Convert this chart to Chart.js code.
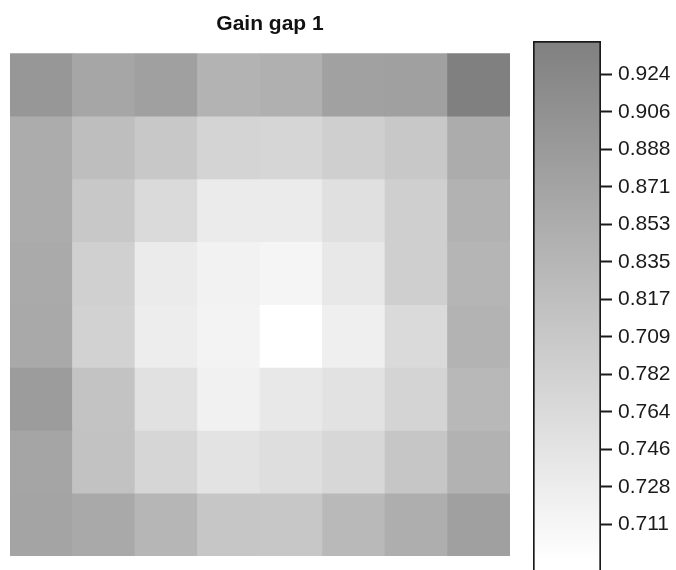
<!DOCTYPE html>
<html>
<head>
<meta charset="utf-8">
<script src="https://cdn.jsdelivr.net/npm/chart.js@4/dist/chart.umd.min.js"></script>
<style>
  html, body { margin: 0; padding: 0; background: #fff; overflow: hidden; }
  #heat { position: absolute; left: 0; top: 0; }
  #bar  { position: absolute; left: 520px; top: 0; }
</style>
</head>
<body>
<canvas id="heat" width="540" height="570"></canvas>
<canvas id="bar" width="156" height="600"></canvas>
<script>
// Grid columns and rows (top row first)
const columns = ['1', '2', '3', '4', '5', '6', '7', '8'];
const row1 = [0.895, 0.866, 0.878, 0.841, 0.847, 0.876, 0.878, 0.940];
const row2 = [0.854, 0.820, 0.800, 0.777, 0.773, 0.786, 0.800, 0.854];
const row3 = [0.854, 0.800, 0.765, 0.732, 0.732, 0.753, 0.786, 0.843];
const row4 = [0.858, 0.785, 0.732, 0.719, 0.713, 0.738, 0.786, 0.837];
const row5 = [0.860, 0.781, 0.728, 0.717, 0.693, 0.724, 0.765, 0.841];
const row6 = [0.886, 0.810, 0.752, 0.721, 0.738, 0.750, 0.777, 0.831];
const row7 = [0.868, 0.812, 0.773, 0.748, 0.757, 0.771, 0.804, 0.843];
const row8 = [0.870, 0.860, 0.835, 0.804, 0.802, 0.829, 0.850, 0.878];
const rows = [row1, row2, row3, row4, row5, row6, row7, row8];

// Colour key range and its labelled ticks
const keyMin = 0.6933;
const keyMax = 0.9398;
const keyTickValues = [0.71105, 0.7288, 0.74655, 0.7643, 0.78205, 0.7998, 0.81755,
                       0.8353, 0.85305, 0.8708, 0.88855, 0.9063, 0.92405];
const keyTickLabels = ['0.711', '0.728', '0.746', '0.764', '0.782', '0.709', '0.817',
                       '0.835', '0.853', '0.871', '0.888', '0.906', '0.924'];

const FONT = '"Liberation Sans", Arial, Helvetica, sans-serif';

// white for the lowest value, mid grey for the highest
function grey(v) {
  let t = (v - keyMin) / (keyMax - keyMin);
  t = Math.max(0, Math.min(1, t));
  const g = Math.round(255 - t * 127);
  return `rgb(${g},${g},${g})`;
}

// an axis that only reserves horizontal room beside the grid
function spacer(position, width) {
  return {
    type: 'linear',
    position,
    display: true,
    grid: { display: false },
    border: { display: false },
    ticks: { display: false },
    afterFit: (scale) => { scale.width = width; }
  };
}

new Chart(document.getElementById('heat'), {
  type: 'bar',
  data: {
    labels: columns,
    datasets: rows.map((vals, i) => ({
      label: 'row ' + (i + 1),
      data: vals.map(() => [i, i + 1]),
      backgroundColor: vals.map(grey),
      borderWidth: 0,
      barPercentage: 1,
      categoryPercentage: 1
    }))
  },
  options: {
    responsive: false,
    animation: false,
    devicePixelRatio: 1,
    layout: { padding: { left: 0, right: 0, top: 0, bottom: 14 } },
    plugins: {
      legend: { display: false },
      tooltip: { enabled: false },
      title: {
        display: true,
        text: 'Gain gap 1',
        color: '#111',
        font: { family: FONT, size: 21, weight: 'bold', lineHeight: 1.2 },
        padding: { top: 12, bottom: 16 }
      }
    },
    scales: {
      x: { type: 'category', stacked: true, display: false },
      y: Object.assign(spacer('left', 10), { min: 0, max: 8, reverse: true }),
      yRight: spacer('right', 30)
    }
  }
});

// Colour key: one floating bar with a vertical grey gradient
const barMin = 0.684;
new Chart(document.getElementById('bar'), {
  type: 'bar',
  data: {
    labels: ['key'],
    datasets: [{
      data: [[barMin, keyMax]],
      backgroundColor: (ctx) => {
        const chart = ctx.chart;
        const area = chart.chartArea;
        if (!area) return '#ccc';
        const ys = chart.scales.y;
        const yTop = ys.getPixelForValue(keyMax);
        const yBot = ys.getPixelForValue(keyMin);
        const g = chart.ctx.createLinearGradient(0, yBot, 0, yTop);
        g.addColorStop(0, grey(keyMin));
        g.addColorStop(1, grey(keyMax));
        return g;
      },
      borderColor: '#1a1a1a',
      borderWidth: 2,
      borderSkipped: false,
      barPercentage: 1,
      categoryPercentage: 1
    }]
  },
  options: {
    responsive: false,
    animation: false,
    devicePixelRatio: 1,
    layout: { padding: { left: 13, right: 0, top: 41, bottom: 10 } },
    plugins: { legend: { display: false }, tooltip: { enabled: false } },
    scales: {
      x: { type: 'category', display: false },
      y: {
        type: 'linear',
        position: 'right',
        min: barMin,
        max: keyMax,
        border: { display: false },
        grid: {
          display: true,
          drawOnChartArea: false,
          drawTicks: true,
          tickLength: 11,
          tickColor: '#1a1a1a',
          tickWidth: 2
        },
        afterBuildTicks: (scale) => {
          scale.ticks = keyTickValues.map(v => ({ value: v }));
        },
        afterFit: (scale) => { scale.width = 75; },
        ticks: {
          autoSkip: false,
          padding: 6,
          color: '#1a1a1a',
          font: { family: FONT, size: 21 },
          callback: (value, index) => keyTickLabels[index]
        }
      }
    }
  }
});
</script>
</body>
</html>
